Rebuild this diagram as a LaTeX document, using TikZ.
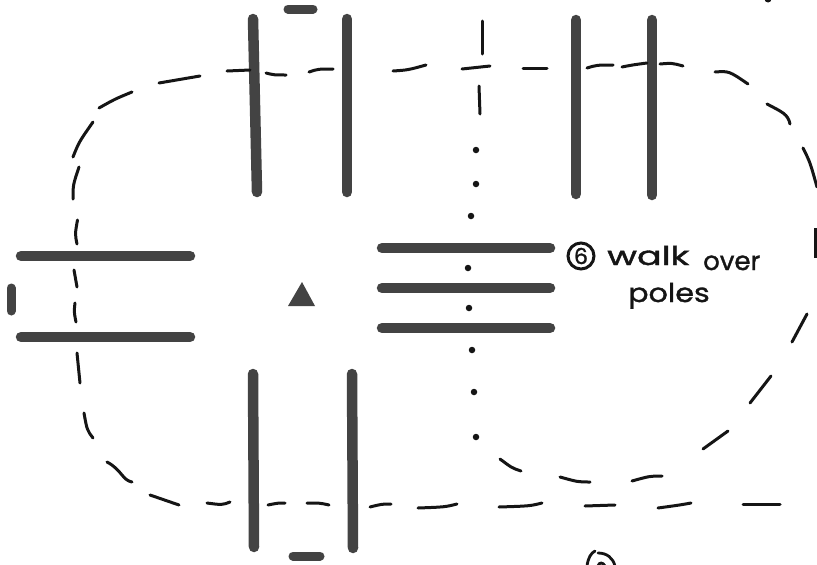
\documentclass[tikz,border=0pt]{standalone}
\usepackage{fontspec}
\setmainfont{Poppins}
\newfontfamily\handfont[FakeBold=1.3]{Poppins}
\definecolor{pole}{HTML}{434343}
\definecolor{ink}{HTML}{151515}
\tikzset{
  polebar/.style={line width=10.5pt,color=pole,line cap=round},
  markbar/.style={line width=9pt,color=pole,line cap=round},
  trail/.style={line width=3pt,color=ink,line cap=round,line join=round},
  trailend/.style={line width=3.5pt,color=ink},
  spot/.style={circle,fill=ink,inner sep=0pt,minimum size=6.5pt},
  hand/.style={inner sep=0pt,anchor=base west,text=ink,font=\handfont\fontsize{26}{26}\selectfont},
  badge/.style={circle,draw=ink,line width=3pt,inner sep=0pt,minimum size=26pt,text=ink,font=\handfont\fontsize{22}{22}\selectfont}
}
\begin{document}
\begin{tikzpicture}[x=1pt,y=-1pt]
\useasboundingbox (0,0) rectangle (817,565);
\clip (0,0) rectangle (817,565);
% vertical poles
\draw[polebar] (253,19) -- (257,192);
\draw[polebar] (347,19) -- (347,192);
\draw[polebar] (576,20) -- (576,194);
\draw[polebar] (652,20) -- (652,195);
\draw[polebar] (253,374) -- (254,547);
\draw[polebar] (352,374) -- (353,548);
% horizontal poles
\draw[polebar] (21,256) -- (190,256);
\draw[polebar] (21,337) -- (190,337);
\draw[polebar] (382,248) -- (550,248);
\draw[polebar] (382,288) -- (550,288);
\draw[polebar] (382,328) -- (550,328);
% small marks
\draw[markbar] (11,288) -- (11,311);
\draw[markbar] (288,9) -- (313,9);
\draw[markbar] (293,556) -- (320,556);
% start triangle
\fill[pole] (302,282) -- (315,306) -- (288,306) -- cycle;
% dashed trail, clockwise from the left
\draw[trail] (77,244) .. controls (75,234) .. (77.5,220);
\draw[trail] (73,199) .. controls (73,185) .. (79,167);
\draw[trail] (73,157) .. controls (79,142) .. (93,122);
\draw[trail] (99,108) .. controls (115,99) .. (132,92);
\draw[trail] (159,83) -- (200,76);
\draw[trail] (227,71) -- (250,70);
\draw[trail] (266,73) .. controls (274,75) .. (286,75);
\draw[trail] (309,72) .. controls (318,69) .. (333,69);
\draw[trail] (393,71) .. controls (408,70) .. (426,65);
\draw[trail] (462,69) -- (490,66);
\draw[trail] (523,68) -- (547,68);
\draw[trail] (587,68) .. controls (597,65) .. (613,65);
\draw[trail] (622,67) .. controls (632,65) .. (647,63);
\draw[trail] (660,64) .. controls (672,63) .. (683,66);
\draw[trail] (715,72) .. controls (729,71) .. (748,84);
\draw[trail] (767,104) .. controls (782,112) and (788,114) .. (790,124);
\draw[trail] (803,148) .. controls (810,162) .. (817,187);
\draw[trailend] (816,228) -- (816,258);
\draw[trail] (807,314) -- (792,342);
\draw[trail] (771,376) -- (750,403);
\draw[trail] (728,431) -- (703,449);
\draw[trail] (662,476) .. controls (650,476) .. (632,481);
\draw[trail] (590,482) .. controls (578,482) .. (560,477);
\draw[trail] (521,471) .. controls (512,468) .. (500,459);
\draw[trail] (780,504) -- (743,504);
\draw[trail] (691,503) .. controls (680,505) .. (658,508);
\draw[trail] (615,505) -- (585,506);
\draw[trail] (542,503) .. controls (530,506) .. (499,507);
\draw[trail] (457,504) .. controls (445,507) .. (418,508);
\draw[trail] (391,504) .. controls (382,504) .. (370,507);
\draw[trail] (329,505) .. controls (320,503) .. (307,503);
\draw[trail] (285,503) .. controls (278,503) .. (268,505);
\draw[trail] (230,502) .. controls (222,505) .. (207,503);
\draw[trail] (179,505) -- (150,495);
\draw[trail] (132,482) .. controls (122,480) and (122,470) .. (107,462);
\draw[trail] (93,438) .. controls (87,430) .. (84,413);
\draw[trail] (80,383) -- (77,353);
\draw[trail] (76,322) .. controls (74,312) .. (75,303);
\draw[trail] (77,287) -- (74,270);
% centre shortcut
\draw[trail] (482,21) -- (482,54);
\draw[trail] (479,86) -- (480,114);
\foreach \p/\q in {476/150,476/184,471/216,468/268,469/308,472/350,474/392,476/437}
  \node[spot] at (\p,\q) {};
% label
\node[badge] (six) at (581,256) {6};
\node[hand] (walk) at (607,265) {\scalebox{1.4}[1]{walk}};
\node[hand] (over) at (703,270) {over};
\node[hand] (poles) at (628,302) {\scalebox{1.16}[1]{poles}};
% cropped next label and marks at the edges
\draw[line width=2.8pt,color=ink,line cap=round] (587,566) .. controls (588,558) and (591,553) .. (595,551);
\draw[line width=2.8pt,color=ink,line cap=round] (598,553) .. controls (607,553) and (613,558) .. (615,566);
\draw[line width=2.8pt,color=ink] (598,566) .. controls (599,562) and (603,562) .. (605,566);
\fill[ink] (768,-1) circle (3.5);
\end{tikzpicture}
\end{document}
